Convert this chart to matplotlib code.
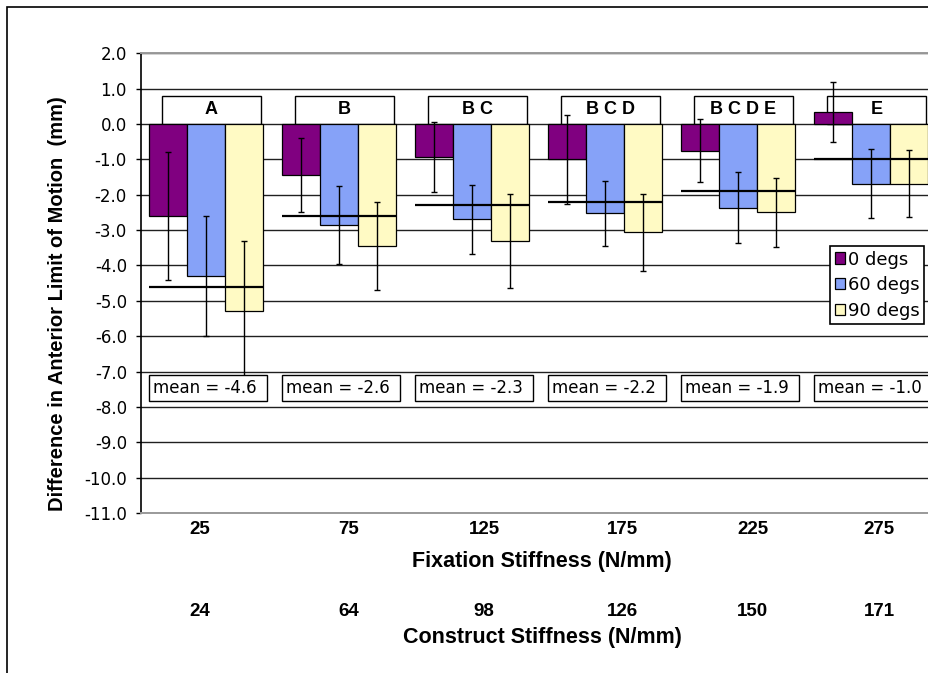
"""Difference in anterior limit of motion by fixation stiffness, grouped by flexion angle."""

import matplotlib.pyplot as plt
import matplotlib.transforms as mtransforms
from matplotlib.patches import Rectangle
import numpy as np

plt.rcParams.update(
    {
        "font.family": "DejaVu Sans",
        "axes.axisbelow": True,
    }
)

# ---------------------------------------------------------------- data
fixation = ["25", "75", "125", "175", "225", "275"]
construct = ["24", "64", "98", "126", "150", "171"]
groupings = ["A", "B", "B C", "B C D", "B C D E", "E"]
group_means = [-4.6, -2.6, -2.3, -2.2, -1.9, -1.0]

angles = ["0 degs", "60 degs", "90 degs"]
deg0 = [-2.6, -1.45, -0.93, -1.0, -0.75, 0.33]
deg0_sd = [1.8, 1.05, 1.0, 1.25, 0.88, 0.85]
deg60 = [-4.3, -2.85, -2.7, -2.53, -2.37, -1.69]
deg60_sd = [1.7, 1.1, 0.98, 0.91, 1.0, 0.97]
deg90 = [-5.3, -3.45, -3.3, -3.06, -2.5, -1.69]
deg90_sd = [2.0, 1.25, 1.33, 1.09, 0.97, 0.95]

COLORS = ["#800080", "#86A2F8", "#FFFAC4"]
BOLD = ["Liberation Sans", "DejaVu Sans"]

# stiffness labels sit slightly off the group centres
label_x = [-0.06, 1.06, 2.08, 3.12, 4.10, 5.05]

# ---------------------------------------------------------------- plot
fig = plt.figure(figsize=(9.29, 6.73), dpi=100)
ax = fig.add_axes([141 / 929, 160 / 673, 798 / 929, 459.7 / 673])

x = np.arange(len(fixation))
width = 0.2857
series = [(deg0, deg0_sd), (deg60, deg60_sd), (deg90, deg90_sd)]

for k, ((vals, sd), color) in enumerate(zip(series, COLORS)):
    pos = x + (k - 1) * width - 0.015
    ax.bar(pos, vals, width=width, color=color, edgecolor="black",
           linewidth=0.9, zorder=3, label=angles[k])
    ax.errorbar(pos, vals, yerr=sd, fmt="none", ecolor="black",
                elinewidth=1.0, capsize=2.5, capthick=1.0, zorder=4)

# statistical grouping boxes above the zero line
for i, letters in enumerate(groupings):
    ax.add_patch(Rectangle((i - 0.34, 0), 0.74, 0.79, facecolor="white",
                           edgecolor="black", linewidth=1.0, zorder=2.5))
    ax.text(i + 0.03, 0.40, letters, ha="center", va="center",
            fontsize=13, fontweight="bold", family=BOLD, zorder=2.6)

# group mean lines and their labels
ax.hlines(group_means, x - 0.44, x + 0.42, color="black", linewidth=1.6,
          zorder=5)
for i, m in enumerate(group_means):
    ax.add_patch(Rectangle((i - 0.44, -7.82), 0.885, 0.73, facecolor="white",
                           edgecolor="black", linewidth=1.0, zorder=6))
    ax.text(i - 0.41, -7.46, f"mean = {m:.1f}", ha="left", va="center",
            fontsize=12, zorder=7)

# axes
ax.set_xlim(-0.5, 5.5)
ax.set_ylim(-11, 2)
yt = np.arange(-11, 2.5, 1.0)
ax.set_yticks(yt)
ax.set_yticklabels([f"{v:.1f}" for v in yt], fontsize=12)
ax.tick_params(axis="y", direction="out", length=3.6, width=1.0, pad=6.5)
ax.set_xticks([])
ax.grid(axis="y", color="#202020", linewidth=1.0)
ax.spines["left"].set_color("black")
ax.spines["left"].set_linewidth(1.2)
for side in ("top", "bottom"):
    ax.spines[side].set_color("#9a9a9a")
    ax.spines[side].set_linewidth(1.4)
ax.spines["right"].set_visible(False)

ax.set_ylabel("Difference in Anterior Limit of Motion  (mm)", fontsize=14.5,
              fontweight="bold", family=BOLD, va="center")
ax.yaxis.set_label_coords(-0.105, 0.456)

# two rows of stiffness labels under the plot
tr = mtransforms.blended_transform_factory(ax.transData, fig.transFigure)
for lx, f, c in zip(label_x, fixation, construct):
    ax.text(lx, 1 - 530 / 673, f, transform=tr, ha="center", va="center",
            fontsize=13.5, fontweight="bold", family=BOLD)
    ax.text(lx, 1 - 612 / 673, c, transform=tr, ha="center", va="center",
            fontsize=13.5, fontweight="bold", family=BOLD)
fig.text(542 / 929, 1 - 562 / 673, "Fixation Stiffness (N/mm)", ha="center",
         va="center", fontsize=15.5, fontweight="bold", family=BOLD)
fig.text(542 / 929, 1 - 637 / 673, "Construct Stiffness (N/mm)", ha="center",
         va="center", fontsize=15.5, fontweight="bold", family=BOLD)

handles = [Rectangle((0, 0), 1, 1, facecolor=c, edgecolor="black",
                     linewidth=0.9) for c in COLORS]
leg = ax.legend(handles, angles, loc="upper left",
                bbox_to_anchor=(830 / 929, 1 - 246 / 673),
                bbox_transform=fig.transFigure, frameon=True, fancybox=False,
                edgecolor="black", framealpha=1, borderpad=0.25,
                labelspacing=0.42, handlelength=0.6, handleheight=0.6,
                handletextpad=0.15, borderaxespad=0,
                prop={"family": "DejaVu Sans", "size": 13})
leg.get_frame().set_linewidth(1.2)
leg.set_zorder(8)

# outer frame around the figure
fig.add_artist(Rectangle((7 / 929, -0.05), 1.1, 1.05 - 7 / 673,
                         transform=fig.transFigure, fill=False,
                         edgecolor="black", linewidth=1.2))

fig.savefig("out.png", dpi=100)
